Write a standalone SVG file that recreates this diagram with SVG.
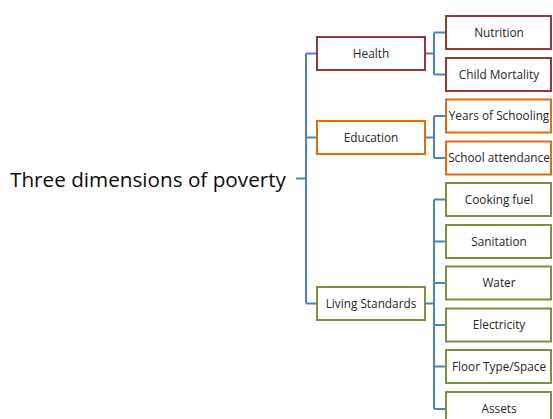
<svg xmlns="http://www.w3.org/2000/svg" width="553" height="419" viewBox="0 0 553 419">
<style>
.box{fill:#fff;stroke-width:2}
.h{stroke:#953735}
.e{stroke:#E46C0A}
.l{stroke:#77933C}
.c{fill:none;stroke:#4F81BD;stroke-width:2}
text{font-family:"Open Sans","Liberation Sans",sans-serif;fill:#262626;font-size:11.8px;text-anchor:middle}
.t{font-size:20.7px;text-anchor:start;fill:#0d0d0d}
</style>
<rect width="553" height="419" fill="#fff"/>
<g id="connectors">
<path class="c" d="M296 178.5H306M306 53.5V303.5M306 53.5H317M306 137.5H317M306 303.5H317"/>
<path class="c" d="M425 53.5H434M434 32.5V74.5M434 32.5H446M434 74.5H446"/>
<path class="c" d="M425 137.5H434M434 116V158M434 116H446M434 158H446"/>
<path class="c" d="M425 303.5H434M434 199.5V409M434 199.5H446M434 241.5H446M434 283H446M434 325H446M434 366.5H446M434 409H446"/>
</g>
<g id="root"><text class="t" x="10" y="187">Three dimensions of poverty</text></g>
<g id="health"><rect class="box h" x="317" y="37" width="108" height="33"/><text x="371" y="57.5">Health</text></g>
<g id="education"><rect class="box e" x="317" y="121" width="108" height="33"/><text x="371" y="141.5">Education</text></g>
<g id="living"><rect class="box l" x="317" y="287" width="108" height="33"/><text x="371" y="307.5">Living Standards</text></g>
<g id="nutrition"><rect class="box h" x="446" y="16" width="105" height="33"/><text x="499" y="36.5">Nutrition</text></g>
<g id="child"><rect class="box h" x="446" y="58" width="105" height="33"/><text x="499" y="78.5">Child Mortality</text></g>
<g id="years"><rect class="box e" x="446" y="99.5" width="105" height="33"/><text x="499" y="120">Years of Schooling</text></g>
<g id="school"><rect class="box e" x="446" y="141.5" width="105" height="33"/><text x="499" y="162">School attendance</text></g>
<g id="cooking"><rect class="box l" x="446" y="183" width="105" height="33"/><text x="499" y="203.5">Cooking fuel</text></g>
<g id="sanitation"><rect class="box l" x="446" y="225" width="105" height="33"/><text x="499" y="245.5">Sanitation</text></g>
<g id="water"><rect class="box l" x="446" y="266.5" width="105" height="33"/><text x="499" y="287">Water</text></g>
<g id="electricity"><rect class="box l" x="446" y="308.5" width="105" height="33"/><text x="499" y="329">Electricity</text></g>
<g id="floor"><rect class="box l" x="446" y="350" width="105" height="33"/><text x="499" y="370.5">Floor Type/Space</text></g>
<g id="assets"><rect class="box l" x="446" y="392" width="105" height="33"/><text x="499" y="412.5">Assets</text></g>
</svg>
